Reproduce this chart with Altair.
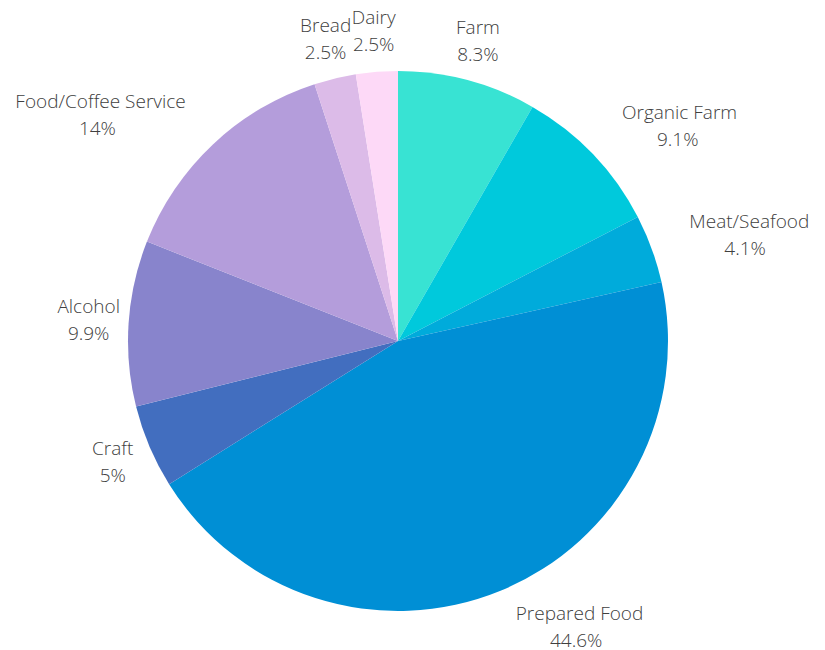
import altair as alt
import pandas as pd

categories = ["Farm", "Organic Farm", "Meat/Seafood", "Prepared Food", "Craft",
              "Alcohol", "Food/Coffee Service", "Bread", "Dairy"]
values = [8.3, 9.1, 4.1, 44.6, 5, 9.9, 14, 2.5, 2.5]
colors = ["#38e3d3", "#00c9dc", "#00abdb", "#008fd5", "#426ebf",
          "#8884cc", "#b49ddb", "#dcbbe8", "#fdd9f7"]

df = pd.DataFrame({
    "category": categories,
    "value": values,
    "order": list(range(len(categories))),
    "pct": [f"{v:g}%" for v in values],
})

PAD_TOP = 10
CX, CY, R = 390, 323, 270
LR = 310
FS = 19
LH = 27
CHW = 9.3

left_set = ["Organic Farm", "Meat/Seafood", "Prepared Food"]
right_set = ["Food/Coffee Service"]

pie = alt.Chart(df).mark_arc(radius=R, stroke=None).encode(
    theta=alt.Theta("value:Q", stack=True),
    order=alt.Order("order:Q"),
    x=alt.value(CX), y=alt.value(CY),
    color=alt.Color("category:N", scale=alt.Scale(domain=categories, range=colors), legend=None),
)

def arr(lst):
    return "[" + ",".join("'" + s + "'" for s in lst) + "]"

lab_base = alt.Chart(df).transform_window(
    cum="sum(value)", sort=[alt.SortField("order")], frame=[None, 0]
).transform_joinaggregate(
    total="sum(value)"
).transform_calculate(
    ang=f"2 * PI * (datum.cum - datum.value / 2) / datum.total",
    dir=f"indexof({arr(left_set)}, datum.category) >= 0 ? 1 : (indexof({arr(right_set)}, datum.category) >= 0 ? -1 : 0)",
).transform_calculate(
    px=f"{CX} + {LR} * sin(datum.ang)",
    py=f"{CY} - {LR} * cos(datum.ang)",
).transform_calculate(
    y1=f"datum.py - {LH / 2}",
    y2=f"datum.py + {LH / 2}",
    x2=f"datum.px + datum.dir * length(datum.category) * {CHW} / 2",
)

txt = dict(font="Open Sans", fontWeight=300, fontSize=FS, color="#404040", baseline="middle")

def name_layer(align, filt):
    return lab_base.transform_filter(filt).mark_text(align=align, **txt).encode(
        x=alt.X("px:Q", scale=None, axis=None),
        y=alt.Y("y1:Q", scale=None, axis=None),
        text="category:N",
    )

n_left = name_layer("left", alt.FieldOneOfPredicate(field="category", oneOf=left_set))
n_right = name_layer("right", alt.FieldOneOfPredicate(field="category", oneOf=right_set))
n_center = name_layer("center", {"not": alt.FieldOneOfPredicate(field="category", oneOf=left_set + right_set)})

pct_layer = lab_base.mark_text(align="center", **txt).encode(
    x=alt.X("x2:Q", scale=None, axis=None),
    y=alt.Y("y2:Q", scale=None, axis=None),
    text="pct:N",
)

chart = alt.layer(pie, n_left, n_right, n_center, pct_layer).properties(
    width=809, height=632, padding={"top": PAD_TOP, "left": 0, "right": 0, "bottom": 0}, autosize="none"
).configure_view(stroke=None)

chart.save("out.html", embed_options={"renderer": "svg", "actions": False})
